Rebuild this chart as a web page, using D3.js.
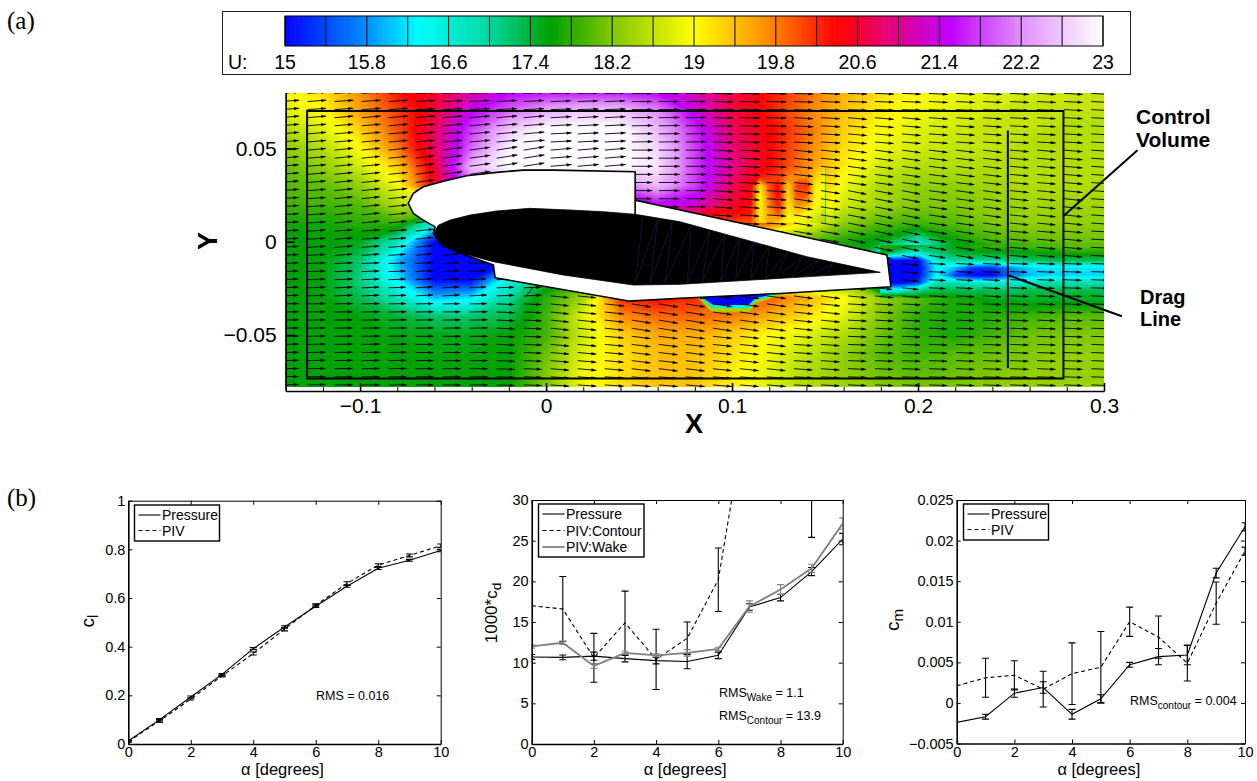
<!DOCTYPE html>
<html>
<head>
<meta charset="utf-8">
<script src="https://cdn.jsdelivr.net/npm/d3@7"></script>
<style>
html, body { margin: 0; padding: 0; background: #fff; }
svg { display: block; }
text { font-family: "Liberation Sans", Arial, sans-serif; fill: #000; }
</style>
</head>
<body>
<div id="chart-area"></div>
<script>
// ---- colour bar
const barStops = [15, 15.8, 16.3, 17, 17.6, 18.2, 19, 19.7, 20.4, 21, 21.5, 22.2, 23];
const barColors = ["#0000ff", "#0090ff", "#00ffff", "#00d8a0", "#00a000", "#80c800", "#ffff00", "#ff9000", "#ff0000", "#e00090", "#c000ff", "#e090ff", "#ffffff"];
const barLabels = [15, 15.8, 16.6, 17.4, 18.2, 19, 19.8, 20.6, 21.4, 22.2, 23];

// ---- velocity field, U at x = -0.14..0.30 (0.02 step), y = 0.08..-0.08 (0.01 step)
const fieldU = [
  [19, 19.2, 19.7, 20.3, 20.6, 21.1, 21.5, 21.6, 21.6, 21.6, 21.5, 21.2, 20.7, 20.3, 19.9, 19.5, 19.2, 19, 18.9, 18.8, 18.7, 18.7, 18.6],
  [18.8, 19, 19.6, 20.1, 20.6, 21.5, 22, 22.4, 22.6, 22.6, 22.2, 21.4, 20.7, 20.3, 19.8, 19.4, 19.1, 18.9, 18.8, 18.7, 18.6, 18.6, 18.6],
  [18.5, 18.8, 19.3, 20, 20.8, 21.8, 22.6, 23, 23, 23, 22.5, 21.7, 20.8, 20.4, 19.9, 19.3, 19, 18.8, 18.7, 18.6, 18.6, 18.5, 18.5],
  [18.3, 18.5, 19, 19.8, 20.8, 22, 22.9, 23, 23, 23, 22.7, 21.8, 20.9, 20.4, 19.8, 19.2, 18.9, 18.7, 18.6, 18.6, 18.5, 18.5, 18.5],
  [18.1, 18.3, 18.7, 19.3, 20.6, 22.5, 23, 23, 23, 23, 22.8, 21.8, 21, 20.4, 19.7, 19.1, 18.7, 18.5, 18.5, 18.5, 18.5, 18.5, 18.5],
  [18, 18.05, 18.3, 18.9, 20.5, 22, 22, 22, 22, 22, 22.5, 21.8, 20.8, 20.1, 19.7, 18.9, 18.5, 18.3, 18.3, 18.4, 18.5, 18.5, 18.5],
  [17.9, 17.9, 18, 18.5, 18.8, 21, 21, 21, 21, 21, 21.5, 21.3, 20.6, 20, 19.6, 18.7, 18.4, 18.2, 18.2, 18.3, 18.4, 18.4, 18.4],
  [17.7, 17.7, 17.8, 17.9, 16.6, 17, 17, 17, 17, 17, 20, 20, 20, 20, 19, 18.3, 18, 17.9, 18, 18.2, 18.3, 18.3, 18.3],
  [17.55, 17.6, 17.5, 16.8, 15, 15, 15, 16, 17, 17, 18, 18, 18, 18, 18, 17.7, 17.5, 16.8, 17.6, 17.9, 18, 18.1, 18.1],
  [17.55, 17.55, 17.2, 16, 15, 15, 15, 16.5, 17, 17, 18, 18, 18, 18, 18, 18, 16, 15, 17.3, 17.2, 17.3, 17.4, 17.4],
  [17.55, 17.55, 17.1, 16.2, 15, 15, 16.5, 17.3, 17.8, 18, 18, 18, 18, 18, 18, 18, 16, 15, 15.5, 15.8, 16.3, 16.4, 16.4],
  [17.55, 17.55, 17.3, 16.8, 16, 16.2, 17, 17.8, 18.4, 20.2, 20.4, 20.2, 19.8, 20, 19.5, 19, 18.3, 18, 17.7, 17.5, 17.4, 17.4, 17.4],
  [17.55, 17.55, 17.55, 17.4, 17.2, 17.2, 17.3, 17.9, 18.8, 19.7, 19.9, 19.9, 19.8, 19.5, 19.2, 18.8, 18.2, 17.8, 17.7, 17.8, 17.9, 18, 18],
  [17.55, 17.55, 17.55, 17.55, 17.5, 17.5, 17.6, 17.9, 18.7, 19.3, 19.55, 19.5, 19.3, 19, 18.8, 18.5, 18.1, 17.8, 17.7, 17.9, 18.1, 18.2, 18.2],
  [17.55, 17.55, 17.55, 17.55, 17.55, 17.55, 17.6, 18.1, 18.8, 19.2, 19.4, 19.4, 19.2, 18.9, 18.6, 18.3, 18, 17.9, 18, 18.1, 18.2, 18.3, 18.3],
  [17.55, 17.55, 17.55, 17.55, 17.55, 17.55, 17.6, 18.2, 18.9, 19.2, 19.4, 19.35, 19.1, 18.8, 18.5, 18.3, 18.1, 18, 18.1, 18.2, 18.3, 18.3, 18.3],
  [17.6, 17.55, 17.55, 17.55, 17.55, 17.55, 17.6, 18.2, 18.9, 19.2, 19.4, 19.35, 19.1, 18.8, 18.5, 18.4, 18.3, 18.2, 18.2, 18.3, 18.3, 18.4, 18.4]
];

// finer patch for the wake, x = 0.18..0.30 (0.01 step), y = -0.002..-0.030 (0.004 step)
const wakeU = [
  [17.8, 17.8, 17.5, 17.3, 17.6, 17.8, 17.9, 17.9, 18, 18, 18.1, 18.1, 18.1],
  [17.6, 17, 16.6, 17.2, 17.4, 17.5, 17.5, 17.5, 17.6, 17.6, 17.7, 17.7, 17.7],
  [15, 15, 15, 16.6, 17, 17, 17, 17.1, 17.2, 17.3, 17.3, 17.3, 17.3],
  [15, 15, 15, 16.3, 16, 15.3, 15.3, 15.8, 16.1, 16.2, 16.2, 16.2, 16.2],
  [15, 15, 15, 16.3, 15.3, 15, 15, 15.6, 16, 16.1, 16.1, 16.1, 16.1],
  [15, 15, 15.3, 16.8, 16.9, 16.7, 16.6, 16.7, 16.8, 16.9, 16.9, 16.9, 16.9],
  [16.5, 16.5, 17, 17.3, 17.3, 17.3, 17.3, 17.2, 17.3, 17.3, 17.3, 17.3, 17.3],
  [18, 18, 17.7, 17.7, 17.6, 17.6, 17.5, 17.5, 17.5, 17.5, 17.5, 17.5, 17.5]
];

// streaks behind the upper surface, x = 0.10..0.15 (0.005 step), y = 0.04..0.01 (0.005 step)
const streakU = [
  [21, 20.8, 20.6, 20.5, 20.4, 20.2, 20, 19.9, 19.7, 19.5, 19.3],
  [20.9, 20.7, 20.6, 20.3, 20.2, 20.1, 19.8, 19.7, 19.7, 19.3, 19.1],
  [20.8, 20.6, 20.5, 19.2, 20, 20.4, 19.3, 20.1, 20.2, 19.1, 19],
  [20.7, 20.6, 20.5, 19, 19.9, 20.4, 19.2, 20, 20, 19, 18.9],
  [20.6, 20.5, 20.4, 19, 19.8, 20.3, 19.2, 19.7, 19.6, 19, 18.8],
  [20.5, 20.3, 20.3, 19.1, 19.6, 20, 19.1, 19.3, 19, 18.8, 18.6],
  [20, 20, 20, 19.2, 19.5, 19.3, 19, 18.9, 18.8, 18.6, 18.4]
];

// flow angle in degrees, x = -0.14..0.30 (0.04 step), y = 0.08..-0.08 (0.02 step)
const flowAngle = [
  [4, 4, 3, 3, 2, 0, -1, -2, -2, -3, -3, -3],
  [5, 5, 5, 5, 3, 1, -1, -3, -5, -4, -3, -3],
  [5, 6, 8, 9, 5, 0, -3, -6, -8, -7, -5, -4],
  [4, 6, 9, 11, 6, 0, -4, -9, -11, -8, -6, -4],
  [3, 4, 6, 8, 0, -3, -6, -10, -12, -9, -5, -3],
  [2, 2, 3, 2, -6, -7, -8, -8, -6, -3, -2, -2],
  [1, 1, 1, -2, -6, -9, -8, -6, -3, -2, -2, -2],
  [1, 1, 0, -2, -5, -7, -6, -4, -2, -2, -2, -2],
  [1, 0, 0, -2, -4, -5, -5, -3, -2, -2, -2, -2]
];

// separation bubble below the wing: [U, outline]
const bubblePatches = [
  [18.4, [[0.0819, -0.027], [0.0819, -0.0303], [0.0891, -0.0375], [0.1097, -0.0375], [0.1124, -0.033], [0.1259, -0.0289], [0.1259, -0.027]]],
  [16.6, [[0.0835, -0.027], [0.0835, -0.0303], [0.0895, -0.0355], [0.1092, -0.0355], [0.1124, -0.0315], [0.122, -0.0289], [0.122, -0.027]]],
  [15, [[0.0846, -0.027], [0.0846, -0.0303], [0.09, -0.0339], [0.1088, -0.0339], [0.1124, -0.0303], [0.1187, -0.0289], [0.1187, -0.027]]]
];

// geometry in chord units
const wingMask = [[-0.0741, 0.0206], [-0.0714, 0.0259], [-0.066, 0.0295], [-0.0552, 0.0325], [-0.0427, 0.0354], [-0.0265, 0.0372], [-0.0122, 0.0384], [0.0039, 0.0384], [0.0479, 0.0375], [0.0479, 0.0223], [0.1833, -0.0071], [0.1854, -0.0241], [0.1259, -0.0277], [0.0721, -0.0303], [0.0443, -0.0318], [-0.0274, -0.0193], [-0.0283, -0.0125], [-0.048, -0.0054], [-0.057, -0.0009], [-0.0606, 0.0045], [-0.0597, 0.008], [-0.066, 0.0116], [-0.0714, 0.0152]];
const foil = [[-0.0606, 0.0045], [-0.0579, 0.0089], [-0.0516, 0.0116], [-0.0409, 0.0143], [-0.0265, 0.0165], [-0.0086, 0.0179], [0.0129, 0.017], [0.0308, 0.0161], [0.0479, 0.0147], [0.0721, 0.0107], [0.1402, -0.008], [0.1797, -0.0164], [0.1259, -0.0196], [0.0721, -0.0228], [0.047, -0.0232], [0.0091, -0.0178], [-0.0283, -0.0107], [-0.048, -0.0054], [-0.057, -0.0009]];
const foilStreaks = [[0.052, 0.013], [0.048, -0.022], [0.06, 0.012], [0.056, -0.022], [0.068, 0.011], [0.064, -0.022], [0.078, 0.009], [0.076, -0.022], [0.088, 0.006], [0.084, -0.021], [0.096, 0.004], [0.094, -0.021], [0.104, 0.002], [0.102, -0.02], [0.112, 0], [0.11, -0.02], [0.12, -0.002], [0.118, -0.02], [0.13, -0.005], [0.124, -0.019], [0.138, -0.008], [0.132, -0.019], [0.146, -0.01], [0.14, -0.019], [0.154, -0.012], [0.15, -0.018]];
const slotLine = [[0.0479, 0.0223], [0.0479, 0.0147]];
const strayArrow = [[-0.007, -0.0243], [-0.0109, -0.0295]];
const controlVolume = {x0: -0.1285, x1: 0.2782, y0: -0.0733, y1: 0.0701};
const dragLine = [[0.2483, 0.0597], [0.2483, -0.0677]];
const controlLeader = [[0.2782, 0.0138], [0.318, 0.0491]];
const dragLeader = [[0.2483, -0.0179], [0.3096, -0.0399]];

// ---- lower panels
const alpha = [0, 1, 2, 3, 4, 5, 6, 7, 8, 9, 10];

const clPressure = [0.012, 0.1, 0.193, 0.286, 0.392, 0.481, 0.566, 0.648, 0.722, 0.755, 0.795];
const clPressureErr = [0.003, 0.005, 0.004, 0.004, 0.004, 0.005, 0.005, 0.004, 0.005, 0.004, 0.005];
const clPiv = [0.01, 0.095, 0.185, 0.28, 0.372, 0.472, 0.57, 0.66, 0.735, 0.775, 0.815];
const clPivErr = [0.003, 0.006, 0.004, 0.004, 0.006, 0.007, 0.006, 0.007, 0.006, 0.006, 0.007];

const cdPressure = [10.7, 10.65, 10.8, 10.5, 10.25, 10.15, 10.9, 16.85, 18, 21.2, 25.2];
const cdPressureErr = [0.3, 0.3, 0.5, 0.4, 0.4, 0.9, 0.4, 0.4, 0.4, 0.5, 0.7];
const cdContour = [17, 16.6, 10.6, 14.9, 10.4, 13, 20.2, 43, 62, 45, 60];
const cdContourErr = [0, 4, 3, 3.9, 3.7, 2, 3.9, 0, 0, 19.6, 0];
const cdWake = [12, 12.45, 9.6, 11.2, 10.9, 11.2, 11.7, 16.9, 19, 21.6, 27.1];
const cdWakeErr = [0.2, 0.2, 0.3, 0.2, 0.2, 0.4, 0.2, 0.7, 0.6, 0.5, 0.7];

const cmPressure = [-0.0024, -0.0017, 0.0012, 0.0019, -0.0014, 0.0005, 0.0047, 0.0057, 0.0059, 0.016, 0.0217];
const cmPressureErr = [0, 0.0003, 0.0005, 0.0007, 0.0006, 0.0005, 0.0003, 0.001, 0.0012, 0.0006, 0.0005];
const cmPiv = [0.0021, 0.0031, 0.0034, 0.0017, 0.0036, 0.0044, 0.01, 0.0081, 0.0049, 0.0123, 0.0187];
const cmPivErr = [0, 0.0024, 0.0018, 0.0022, 0.0038, 0.0044, 0.0018, 0.0026, 0.0022, 0.0026, 0.0005];

const clTicks = [0, 0.2, 0.4, 0.6, 0.8, 1];
const cdTicks = [0, 5, 10, 15, 20, 25, 30];
const cmTicks = [-0.005, 0, 0.005, 0.01, 0.015, 0.02, 0.025];
const alphaTicks = [0, 2, 4, 6, 8, 10];

const width = 1257;
const height = 781;

const svg = d3.select("#chart-area")
    .append("svg")
    .attr("width", width)
    .attr("height", height);

const sans = "'Liberation Sans', Arial, sans-serif";
const serif = "'Liberation Serif', 'Times New Roman', serif";

svg.append("text").attr("x", 7).attr("y", 29).attr("font-size", 25).style("font-family", serif).text("(a)");
svg.append("text").attr("x", 7).attr("y", 506).attr("font-size", 25).style("font-family", serif).text("(b)");

const color = d3.scaleLinear().domain(barStops).range(barColors).clamp(true);

// ---- colour bar
const barX = d3.scaleLinear().domain([15, 23]).range([285, 1103]);

svg.append("rect")
    .attr("x", 222.5).attr("y", 11.5).attr("width", 908).attr("height", 63)
    .attr("fill", "none").attr("stroke", "#222").attr("stroke-width", 1);

svg.append("g").selectAll("rect")
    .data(d3.range(15, 23, 0.02))
    .enter().append("rect")
        .attr("x", d => barX(d))
        .attr("y", 16)
        .attr("width", barX(15.02) - barX(15) + 0.6)
        .attr("height", 30)
        .attr("fill", d => color(d + 0.01));

svg.append("g").selectAll("line")
    .data(d3.range(15, 23.01, 0.4))
    .enter().append("line")
        .attr("x1", d => barX(d)).attr("x2", d => barX(d))
        .attr("y1", 16).attr("y2", 46)
        .attr("stroke", "#000").attr("stroke-width", 1);

svg.append("rect")
    .attr("x", 285).attr("y", 16).attr("width", 818).attr("height", 30)
    .attr("fill", "none").attr("stroke", "#000").attr("stroke-width", 1);

svg.append("g").selectAll("text")
    .data(barLabels)
    .enter().append("text")
        .attr("x", d => barX(d))
        .attr("y", 69)
        .attr("text-anchor", "middle")
        .attr("font-size", 19.5)
        .text(d => d);

svg.append("text").attr("x", 228).attr("y", 69).attr("font-size", 19.5).text("U:");

// ---- contour plot
const x = d3.scaleLinear().domain([-0.14, 0.3]).range([285.7, 1104]);
const y = d3.scaleLinear().domain([-0.08, 0.08]).range([391, 92.5]);

svg.append("clipPath").attr("id", "field-clip")
    .append("rect")
    .attr("x", x(-0.14)).attr("y", 93)
    .attr("width", x(0.3) - x(-0.14)).attr("height", 294);

svg.append("clipPath").attr("id", "arrow-clip")
    .append("rect")
    .attr("x", x(-0.14)).attr("y", 93)
    .attr("width", x(0.3) - x(-0.14)).attr("height", 298);

const field = svg.append("g").attr("clip-path", "url(#field-clip)");

const levels = d3.range(15, 23, 0.05);

function drawGrid(parent, rows, xStart, xStep, yStart, yStep) {
    const ny = rows.length;
    const nx = rows[0].length;
    const contours = d3.contours()
        .size([nx, ny])
        .thresholds(levels)
        (rows.flat());
    // contour coordinate c sits half a cell before index c
    const path = d3.geoPath(d3.geoTransform({
        point: function(cx, cy) {
            this.stream.point(x(xStart + (cx - 0.5) * xStep), y(yStart + (cy - 0.5) * yStep));
        }
    }));
    parent.append("g").selectAll("path")
        .data(contours)
        .enter().append("path")
            .attr("d", path)
            .attr("fill", d => color(d.value + 0.025));
}

function drawPatch(id, rows, xStart, xStep, yStart, yStep) {
    const xEnd = xStart + (rows[0].length - 1) * xStep;
    const yEnd = yStart + (rows.length - 1) * yStep;
    svg.append("clipPath").attr("id", id).append("rect")
        .attr("x", x(xStart)).attr("y", y(yStart))
        .attr("width", x(xEnd) - x(xStart)).attr("height", y(yEnd) - y(yStart));
    drawGrid(field.append("g").attr("clip-path", "url(#" + id + ")"), rows, xStart, xStep, yStart, yStep);
}

field.append("rect")
    .attr("x", x(-0.14)).attr("y", 93)
    .attr("width", x(0.3) - x(-0.14)).attr("height", 294)
    .attr("fill", color(15));

drawGrid(field, fieldU, -0.14, 0.02, 0.08, -0.01);
drawPatch("wake-clip", wakeU, 0.18, 0.01, -0.002, -0.004);
drawPatch("streak-clip", streakU, 0.1, 0.005, 0.04, -0.005);

const poly = d3.line().x(d => x(d[0])).y(d => y(d[1]));

field.selectAll("path.bubble")
    .data(bubblePatches)
    .enter().append("path")
        .attr("class", "bubble")
        .attr("d", d => poly(d[1]) + "Z")
        .attr("fill", d => color(d[0]));

// quiver: one arrow per grid node, angle taken from the nearest table entry
const arrowXs = d3.range(-0.1428, 0.305, 0.01453);
const arrowYs = d3.range(0.0795, -0.0797, -0.00434);
const lenScale = d3.scaleLinear().domain([15, 23]).range([16.5, 21]);

function nearest(table, xv, yv, xStep, yStep) {
    const i = Math.max(0, Math.min(table[0].length - 1, Math.round((xv + 0.14) / xStep)));
    const j = Math.max(0, Math.min(table.length - 1, Math.round((0.08 - yv) / yStep)));
    return table[j][i];
}

let shafts = "";
let heads = "";
arrowXs.forEach(xv => {
    arrowYs.forEach(yv => {
        const a = nearest(flowAngle, xv, yv, 0.04, 0.02) * Math.PI / 180;
        const len = lenScale(nearest(fieldU, xv, yv, 0.02, 0.01));
        const x0 = x(xv), y0 = y(yv);
        const x1 = x0 + len * Math.cos(a), y1 = y0 - len * Math.sin(a);
        const ux = Math.cos(a), uy = -Math.sin(a);
        const bx = x1 - 5 * ux, by = y1 - 5 * uy;
        shafts += "M" + x0.toFixed(1) + "," + y0.toFixed(1) + "L" + x1.toFixed(1) + "," + y1.toFixed(1);
        heads += "M" + x1.toFixed(1) + "," + y1.toFixed(1)
            + "L" + (bx - 1.6 * uy).toFixed(1) + "," + (by + 1.6 * ux).toFixed(1)
            + "L" + (bx + 1.6 * uy).toFixed(1) + "," + (by - 1.6 * ux).toFixed(1) + "Z";
    });
});

const arrows = svg.append("g").attr("clip-path", "url(#arrow-clip)");
arrows.append("path").attr("d", shafts).attr("fill", "none").attr("stroke", "#000").attr("stroke-width", 0.9);
arrows.append("path").attr("d", heads).attr("fill", "#000");
arrows.append("path").attr("d", poly(strayArrow)).attr("fill", "none").attr("stroke", "#111").attr("stroke-width", 1);

// wing
svg.append("path").attr("d", poly(wingMask) + "Z")
    .attr("fill", "#fff").attr("stroke", "#000").attr("stroke-width", 1.6).attr("stroke-linejoin", "round");
svg.append("path").attr("d", poly(foil) + "Z").attr("fill", "#000").attr("stroke", "#000").attr("stroke-width", 0.8);
svg.append("path").attr("d", poly(foilStreaks)).attr("fill", "none").attr("stroke", "#1a2a66").attr("stroke-width", 0.5);
svg.append("path").attr("d", poly(slotLine)).attr("stroke", "#000").attr("stroke-width", 1.6).attr("fill", "none");

// control volume and drag line
svg.append("rect")
    .attr("x", x(controlVolume.x0)).attr("y", y(controlVolume.y1))
    .attr("width", x(controlVolume.x1) - x(controlVolume.x0))
    .attr("height", y(controlVolume.y0) - y(controlVolume.y1))
    .attr("fill", "none").attr("stroke", "#000").attr("stroke-width", 2);

svg.append("path").attr("d", poly(dragLine)).attr("stroke", "#000").attr("stroke-width", 2);
svg.append("path").attr("d", poly(controlLeader)).attr("stroke", "#000").attr("stroke-width", 2);
svg.append("path").attr("d", poly(dragLeader)).attr("stroke", "#000").attr("stroke-width", 2);

// axes of the contour plot
const xAxis = d3.axisBottom(x)
    .tickValues(d3.range(-0.14, 0.301, 0.02).map(d => +d.toFixed(2)))
    .tickSizeOuter(0)
    .tickSizeInner(-4)
    .tickPadding(0)
    .tickFormat("");
svg.append("g").attr("transform", "translate(0,391)").call(xAxis);

const xMajor = d3.axisBottom(x)
    .tickValues([-0.1, 0, 0.1, 0.2, 0.3])
    .tickSizeOuter(0)
    .tickSizeInner(-8)
    .tickPadding(7)
    .tickFormat(d => d === 0 ? "0" : String(d).replace("-", "\u2212"));
const xMajorG = svg.append("g").attr("transform", "translate(0,391)").call(xMajor);
xMajorG.selectAll("text").attr("font-size", 21).style("font-family", sans);
xMajorG.selectAll("path, line").attr("stroke-width", 1.6);

const yMajor = d3.axisLeft(y)
    .tickValues([-0.05, 0, 0.05])
    .tickSizeOuter(0)
    .tickSizeInner(-9)
    .tickPadding(9)
    .tickFormat(d => d === 0 ? "0" : String(d).replace("-", "\u2212"));
const yMajorG = svg.append("g").attr("transform", "translate(285.7,0)").call(yMajor);
yMajorG.selectAll("text").attr("font-size", 21).style("font-family", sans);
yMajorG.selectAll("path, line").attr("stroke-width", 1.6);

svg.append("text").attr("x", 694).attr("y", 433).attr("text-anchor", "middle")
    .attr("font-size", 27).attr("font-weight", "bold").text("X");
svg.append("text").attr("transform", "translate(217,241) rotate(-90)").attr("text-anchor", "middle")
    .attr("font-size", 27).attr("font-weight", "bold").text("Y");

function boldLines(lines, px, py, size, gap) {
    lines.forEach((t, i) => {
        svg.append("text").attr("x", px).attr("y", py + i * gap)
            .attr("font-size", size).attr("font-weight", "bold").text(t);
    });
}
boldLines(["Control", "Volume"], 1136, 124, 21, 23);
boldLines(["Drag", "Line"], 1140, 304, 20, 22);

// ---- lower panels
function drawPanel(cfg) {
    const sx = d3.scaleLinear().domain([0, 10]).range([cfg.left, cfg.right]);
    const sy = d3.scaleLinear().domain(cfg.yDomain).range([cfg.bottom, cfg.top]);
    const g = svg.append("g");

    const clipId = "clip-" + cfg.name;
    svg.append("clipPath").attr("id", clipId).append("rect")
        .attr("x", cfg.left).attr("y", cfg.top)
        .attr("width", cfg.right - cfg.left).attr("height", cfg.bottom - cfg.top);

    const plot = g.append("g").attr("clip-path", "url(#" + clipId + ")");

    cfg.series.forEach(s => {
        const line = d3.line().x((d, i) => sx(alpha[i])).y(d => sy(d));
        plot.append("path")
            .attr("d", line(s.values))
            .attr("fill", "none")
            .attr("stroke", s.color)
            .attr("stroke-width", s.width)
            .attr("stroke-dasharray", s.dash);

        const bars = plot.append("g").attr("stroke", s.color).attr("stroke-width", 1.1);
        s.values.forEach((v, i) => {
            const e = s.err[i];
            if (!e) return;
            const px = sx(alpha[i]);
            bars.append("line").attr("x1", px).attr("x2", px).attr("y1", sy(v - e)).attr("y2", sy(v + e));
            bars.append("line").attr("x1", px - 3.5).attr("x2", px + 3.5).attr("y1", sy(v - e)).attr("y2", sy(v - e));
            bars.append("line").attr("x1", px - 3.5).attr("x2", px + 3.5).attr("y1", sy(v + e)).attr("y2", sy(v + e));
        });
    });

    // box with ticks on all four sides
    const fmt = cfg.tickFormat;
    const bottom = g.append("g").attr("transform", "translate(0," + cfg.bottom + ")")
        .call(d3.axisBottom(sx).tickValues(alphaTicks).tickSizeInner(-4).tickSizeOuter(0).tickPadding(3).tickFormat(d3.format("d")));
    const left = g.append("g").attr("transform", "translate(" + cfg.left + ",0)")
        .call(d3.axisLeft(sy).tickValues(cfg.ticks).tickSizeInner(-4).tickSizeOuter(0).tickPadding(3).tickFormat(fmt));
    const top = g.append("g").attr("transform", "translate(0," + cfg.top + ")")
        .call(d3.axisTop(sx).tickValues(alphaTicks).tickSizeInner(-4).tickSizeOuter(0).tickFormat(""));
    const right = g.append("g").attr("transform", "translate(" + cfg.right + ",0)")
        .call(d3.axisRight(sy).tickValues(cfg.ticks).tickSizeInner(-4).tickSizeOuter(0).tickFormat(""));
    [bottom, left].forEach(a => {
        a.selectAll("text").attr("font-size", 14.5).style("font-family", sans);
        a.select(".domain").attr("stroke-width", 1.6);
    });
    [top, right].forEach(a => a.select(".domain").attr("stroke-width", 1));

    g.append("text")
        .attr("x", (cfg.left + cfg.right) / 2 - 2)
        .attr("y", cfg.bottom + 31)
        .attr("text-anchor", "middle")
        .attr("font-size", 16.5)
        .text("\u03b1 [degrees]");

    const yl = g.append("text")
        .attr("transform", "translate(" + cfg.yLabelX + "," + cfg.yLabelY + ") rotate(-90)")
        .attr("text-anchor", "middle")
        .attr("font-size", cfg.yLabelSize);
    yl.append("tspan").text(cfg.yLabel[0]);
    yl.append("tspan").attr("dy", 4).attr("font-size", cfg.yLabelSize * 0.8).text(cfg.yLabel[1]);

    // legend
    const lg = cfg.legend;
    g.append("rect")
        .attr("x", lg.x).attr("y", lg.y).attr("width", lg.w).attr("height", lg.h)
        .attr("fill", "#fff").attr("stroke", "#000").attr("stroke-width", 1.4);
    cfg.series.forEach((s, i) => {
        const ly = lg.rows[i];
        g.append("line")
            .attr("x1", lg.x + 4).attr("x2", lg.x + 26).attr("y1", ly).attr("y2", ly)
            .attr("stroke", s.color).attr("stroke-width", s.width).attr("stroke-dasharray", s.dash);
        g.append("text").attr("x", lg.x + 27.5).attr("y", ly + 5)
            .attr("font-size", 14).text(s.name);
    });

    cfg.notes.forEach(n => {
        const t = g.append("text").attr("x", n.x).attr("y", n.y).attr("font-size", 12.5);
        t.append("tspan").text(n.text[0]);
        if (n.text[1]) {
            t.append("tspan").attr("dy", 3.5).attr("font-size", 10).text(n.text[1]);
            t.append("tspan").attr("dy", -3.5).text(n.text[2]);
        }
    });
}

drawPanel({
    name: "cl", left: 128.3, right: 440.7, top: 500.7, bottom: 744,
    yDomain: [0, 1], ticks: clTicks, tickFormat: d => String(d),
    yLabel: ["c", "l"], yLabelX: 94, yLabelY: 621, yLabelSize: 19,
    legend: {x: 134.5, y: 505, w: 85, h: 36, rows: [515, 530.5]},
    series: [
        {name: "Pressure", values: clPressure, err: clPressureErr, color: "#000", width: 1.1, dash: null},
        {name: "PIV", values: clPiv, err: clPivErr, color: "#000", width: 1.1, dash: "4,3"}
    ],
    notes: [{x: 316, y: 700, text: ["RMS = 0.016"]}]
});

drawPanel({
    name: "cd", left: 531.7, right: 842.7, top: 500, bottom: 744,
    yDomain: [0, 30], ticks: cdTicks, tickFormat: d => String(d),
    yLabel: ["1000*c", "d"], yLabelX: 497, yLabelY: 613, yLabelSize: 17,
    legend: {x: 538.5, y: 504, w: 105.5, h: 53, rows: [514, 530.5, 547]},
    series: [
        {name: "Pressure", values: cdPressure, err: cdPressureErr, color: "#000", width: 1.1, dash: null},
        {name: "PIV:Contour", values: cdContour, err: cdContourErr, color: "#000", width: 1.1, dash: "4,3"},
        {name: "PIV:Wake", values: cdWake, err: cdWakeErr, color: "#808080", width: 1.8, dash: null}
    ],
    notes: [
        {x: 719, y: 697, text: ["RMS", "Wake", " = 1.1"]},
        {x: 719, y: 720, text: ["RMS", "Contour", " = 13.9"]}
    ]
});

drawPanel({
    name: "cm", left: 956.7, right: 1245, top: 500, bottom: 743.5,
    yDomain: [-0.005, 0.025], ticks: cmTicks,
    tickFormat: d => d === 0 ? "0" : String(d).replace("-", "\u2212"),
    yLabel: ["c", "m"], yLabelX: 899, yLabelY: 620, yLabelSize: 19,
    legend: {x: 963.5, y: 504, w: 85, h: 36, rows: [514, 529.5]},
    series: [
        {name: "Pressure", values: cmPressure, err: cmPressureErr, color: "#000", width: 1.1, dash: null},
        {name: "PIV", values: cmPiv, err: cmPivErr, color: "#000", width: 1.1, dash: "4,3"}
    ],
    notes: [{x: 1130, y: 705, text: ["RMS", "contour", " = 0.004"]}]
});
</script>
</body>
</html>
